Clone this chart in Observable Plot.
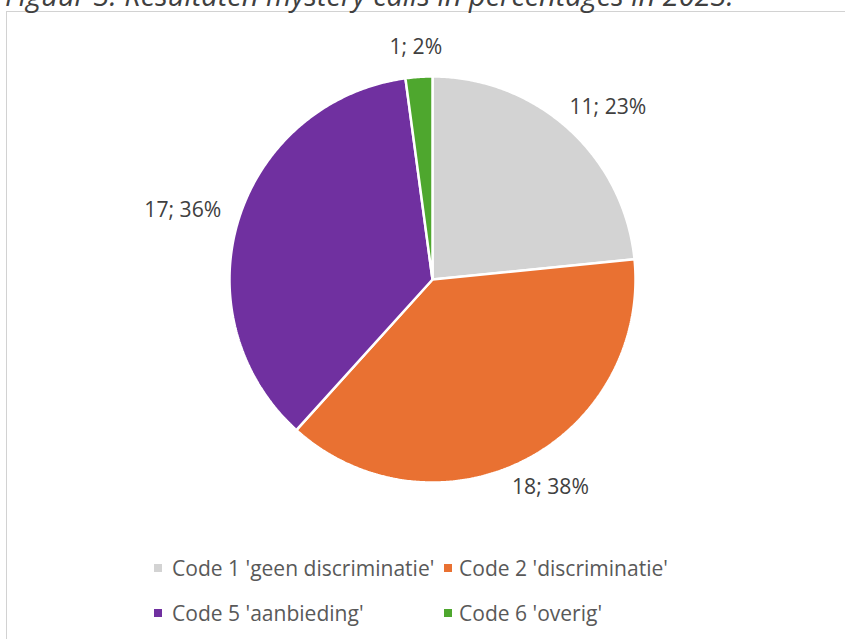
<!DOCTYPE html>
<html><head><meta charset="utf-8">
<script src="https://cdn.jsdelivr.net/npm/d3@7"></script>
<script src="https://cdn.jsdelivr.net/npm/@observablehq/plot@0.6"></script>
<style>
html,body{margin:0;padding:0;background:#fff;}
#wrap{position:relative;width:845px;height:639px;overflow:hidden;font-family:"Open Sans",sans-serif;}
#frame{position:absolute;left:6px;top:11px;width:900px;height:700px;border:1px solid #d2d2d2;box-sizing:border-box;pointer-events:none;}
#chart{position:absolute;left:0;top:0;}
#overlay{position:absolute;left:0;top:0;}
</style></head><body>
<div id="wrap"><div id="chart"></div><div id="frame"></div><svg id="overlay" width="845" height="639"></svg></div>
<script>
// ---- data ----
const categories = ["Code 1 'geen discriminatie'", "Code 2 'discriminatie'", "Code 5 'aanbieding'", "Code 6 'overig'"];
const counts = [11, 18, 17, 1];
const colors = ["#d3d3d3", "#e97132", "#7030a0", "#4ea72e"];
const titleText = "Figuur 3: Resultaten mystery calls in percentages in 2023.";

// ---- layout helpers ----
const FAMILY = '"Open Sans"';
const ctx = document.createElement("canvas").getContext("2d");
function measure(text, size, style = "") { ctx.font = `${style} ${size}px ${FAMILY}`; return ctx.measureText(text).width; }
function fit(text, target, style = "") { return 100 * target / measure(text, 100, style); }

const r = 203, cx = 432, cy = 279;
const total = d3.sum(counts);

// slices (clockwise from 12 o'clock)
const pts = [];
const labels = [];
let acc = 0;
const labelSize = fit("17; 36%", 77);
counts.forEach((c, i) => {
  const a0 = acc / total * 360, a1 = (acc + c) / total * 360;
  acc += c;
  const n = Math.max(2, Math.ceil((a1 - a0) / 0.5));
  pts.push({key: categories[i], x: 0, y: 0});
  for (let k = 0; k <= n; k++) {
    const t = (a0 + (a1 - a0) * k / n) * Math.PI / 180;
    pts.push({key: categories[i], x: Math.sin(t), y: Math.cos(t)});
  }
  const text = `${c}; ${Math.round(c / total * 100)}%`;
  const mid = (a0 + a1) / 2 * Math.PI / 180;
  const w = measure(text, labelSize), h = labelSize * 0.9, g = 20;
  const px = (r + g) * Math.sin(mid) + w / 2 * Math.sin(mid);
  const py = (r + g) * Math.cos(mid) + h / 2 * Math.cos(mid);
  labels.push({x: px / r, y: py / r, text});
});

const chart = Plot.plot({
  width: 845, height: 639,
  x: {domain: [-1, 1], range: [cx - r, cx + r], axis: null},
  y: {domain: [-1, 1], range: [cy + r, cy - r], axis: null},
  color: {domain: categories, range: colors},
  style: {background: "transparent", fontFamily: "Open Sans"},
  marks: [
    Plot.line(pts, {x: "x", y: "y", z: "key", fill: "key", stroke: "white", strokeWidth: 2.5, strokeLinejoin: "miter", curve: "linear-closed"}),
    Plot.text(labels, {x: "x", y: "y", text: "text", fill: "#404040", fontSize: labelSize})
  ]
});
document.getElementById("chart").appendChild(chart);

// ---- title & legend ----
const ov = d3.select("#overlay");
const titleSize = fit(titleText, 729, "italic");
ov.append("text").attr("x", 5).attr("y", 5.5)
  .attr("font-family", "Open Sans").attr("font-style", "italic")
  .attr("font-size", titleSize).attr("fill", "#404040").text(titleText);

const legSize = fit(categories[1], 209);
const legCols = [154, 444], legRows = [568, 613], textOff = [18, 15];
categories.forEach((cat, i) => {
  const col = i % 2, row = Math.floor(i / 2);
  const g = ov.append("g");
  g.append("rect").attr("x", legCols[col]).attr("y", legRows[row] - 4).attr("width", 8).attr("height", 8).attr("fill", colors[i]);
  g.append("text").attr("x", legCols[col] + textOff[col]).attr("y", legRows[row])
    .attr("dominant-baseline", "central")
    .attr("font-family", "Open Sans").attr("font-size", legSize).attr("fill", "#595959").text(cat);
});
</script>
</body></html>
